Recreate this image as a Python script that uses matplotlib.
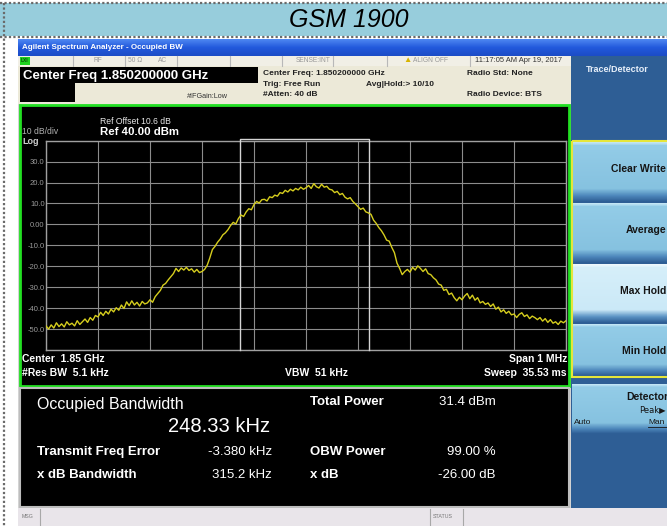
import numpy as np
import matplotlib.pyplot as plt
from matplotlib.patches import Rectangle
from matplotlib.colors import LinearSegmentedColormap

W, H = 667, 526

# Trace data: GSM 1900 carrier, 1 MHz span, one point every 5 kHz
span_khz = (-500, 500)
trace_dbm = [
    -48.5, -50.0, -48.0, -49.5, -47.0, -48.8, -47.5, -49.0, -46.5, -48.0,
    -47.2, -48.5, -46.0, -47.8, -46.5, -45.2, -46.8, -44.5, -45.8, -43.5,
    -44.2, -42.0, -43.5, -41.5, -42.8, -40.5, -41.8, -39.8, -41.0, -38.5,
    -40.2, -37.0, -38.8, -36.5, -38.5, -37.2, -39.0, -36.8, -38.0, -37.5,
    -36.0, -37.2, -34.5, -33.0, -31.5, -29.0, -28.2, -26.5, -25.0, -23.5,
    -21.0, -22.5, -20.8, -21.8, -20.5, -22.0, -21.2, -22.8, -21.5, -23.0,
    -22.5, -21.5, -19.5, -16.0, -12.0, -10.5, -8.5, -7.0, -5.0, -4.0,
    -2.5, -0.5, 1.0, 0.2, 2.8, 4.5, 3.8, 6.0, 7.5, 7.0,
    9.5, 11.0, 10.2, 11.8, 12.0, 11.2, 13.2, 12.8, 14.0, 13.5,
    15.2, 14.8, 16.3, 15.5, 16.8, 16.0, 17.2, 16.5, 17.8, 16.8,
    17.5, 18.6, 17.2, 19.5, 18.0, 17.4, 19.2, 17.8, 18.2, 16.8,
    16.5, 15.2, 15.8, 14.2, 14.8, 13.0, 12.2, 12.8, 11.0, 9.8,
    8.5, 7.2, 7.8, 6.0, 5.5, 4.8, 2.0, 0.5, -1.5, -3.0,
    -5.0, -7.5, -8.0, -11.0, -13.5, -18.5, -21.0, -24.0, -22.5, -21.5,
    -22.8, -20.5, -21.8, -19.8, -21.0, -22.5, -21.2, -23.5, -24.0, -25.5,
    -26.5, -28.5, -29.0, -31.5, -31.0, -33.5, -32.8, -35.0, -36.5, -34.8,
    -36.0, -34.2, -33.0, -35.5, -33.8, -36.2, -35.0, -37.5, -36.8, -38.2,
    -37.5, -39.2, -38.0, -40.5, -39.5, -41.8, -40.8, -42.5, -41.5, -43.2,
    -42.8, -44.5, -43.0, -42.2, -44.0, -43.2, -45.0, -43.8, -44.5, -45.5,
    -44.5, -46.2, -45.0, -46.8, -45.5, -47.2, -46.5, -47.8, -46.2, -47.0,
    -46.0,
]
ref_level = 40.0
db_per_div = 10
y_ticks = [-60, -50, -40, -30, -20, -10, 0, 10, 20, 30, 40]
y_labels = ['', '-50.0', '-40.0', '-30.0', '-20.0', '-10.0', '0.00', '10.0', '20.0', '30.0', '']
x_ticks = [-500, -400, -300, -200, -100, 0, 100, 200, 300, 400, 500]

# Measurement results
obw_khz = 248.33
freq_err_khz = -3.380
result_rows = [("Transmit Freq Error", "-3.380 kHz", "OBW Power", "99.00 %"),
               ("x dB Bandwidth", "315.2 kHz", "x dB", "-26.00 dB")]
softkeys = ["Clear Write", "Average", "Max Hold", "Min Hold"]

plt.rcParams['font.family'] = ['Liberation Sans', 'DejaVu Sans']

fig = plt.figure(figsize=(W / 100, H / 100), dpi=100, facecolor='white')
bg = fig.add_axes([0, 0, 1, 1])
bg.set_autoscale_on(False)
bg.set_xlim(0, W)
bg.set_ylim(H, 0)
bg.axis('off')


# pixel-space helpers for the instrument screen chrome
def box(x, y, w, h, fc, ec='none', lw=0, z=1):
    bg.add_patch(Rectangle((x, y), w, h, facecolor=fc, edgecolor=ec, linewidth=lw, zorder=z))


def grad(x, y, w, h, colors, z=1):
    cmap = LinearSegmentedColormap.from_list('g', colors)
    bg.imshow(np.linspace(0, 1, 60).reshape(-1, 1), cmap=cmap, extent=(x, x + w, y + h, y),
              aspect='auto', interpolation='bilinear', zorder=z)


def txt(x, y, s, size=7, color='white', weight='normal', ha='left', **kw):
    bg.text(x, y, s, fontsize=size, color=color, fontweight=weight, ha=ha, va='center', zorder=6, **kw)


def vline(x, y0, y1, color='#A8A8A8', lw=0.8, z=2):
    bg.plot([x, x], [y0, y1], color=color, lw=lw, zorder=z)


# Title bar
box(0, 3, W, 33, '#97CDDC')
bg.plot([0, W], [3, 3], color='#6A6A6A', lw=1.6, ls=(0, (1, 1)), zorder=3)
bg.plot([0, W], [36.5, 36.5], color='#6A6A6A', lw=1.6, ls=(0, (1, 1)), zorder=3)
bg.plot([4, 4], [3, H], color='#6A6A6A', lw=1.6, ls=(0, (1, 1)), zorder=3)
txt(349, 20, "GSM 1900", size=18, color='black', ha='center', style='italic')

# Screen background
box(18, 39, W - 18, H - 39, '#D4D4D4')

# Window title
grad(18, 39, W - 18, 17, ['#4F88F2', '#2259DC', '#1C4CC6'])
txt(22, 47.5, "Agilent Spectrum Analyzer - Occupied BW", size=5.8, weight='bold')

# Status row
box(18, 56, 553, 10, '#F1EFE6')
for xd in [73, 125, 177, 230, 282, 333, 387, 470]:
    vline(xd, 56, 66, color='#B8B8B8')
box(20, 57, 10, 8, '#1ED21E')
txt(21, 61, "LXI", size=3.5, color='#0A4A0A', weight='bold')
txt(98, 61, "RF", size=4.8, color='#999999', ha='center')
txt(135, 61, "50 Ω", size=4.8, color='#999999', ha='center')
txt(163, 61, "AC", size=4.8, color='#999999', ha='center')
txt(313, 61, "SENSE:INT", size=4.8, color='#999999', ha='center')
txt(407, 60.5, "▲", size=6, color='#D8B400', ha='center')
txt(413, 61, "ALIGN OFF", size=4.8, color='#999999')
txt(519, 61, "11:17:05 AM Apr 19, 2017", size=5.4, color='#333333', ha='center')

# Info area
box(18, 66, 553, 38, '#ECE9D8')
box(20, 67, 238, 16, 'black', z=2)
box(20, 83, 55, 19, 'black', z=2)
txt(23, 75.5, "Center Freq 1.850200000 GHz", size=9.5, weight='bold')
txt(187, 97, "#IFGain:Low", size=5.2, color='#333333')
txt(263, 73.5, "Center Freq: 1.850200000 GHz", size=6, color='#222222', weight='bold')
txt(263, 84, "Trig: Free Run", size=6, color='#222222', weight='bold')
txt(366, 84, "Avg|Hold:> 10/10", size=6, color='#222222', weight='bold')
txt(263, 95, "#Atten: 40 dB", size=6, color='#222222', weight='bold')
txt(467, 73.5, "Radio Std: None", size=6, color='#222222', weight='bold')
txt(467, 95, "Radio Device: BTS", size=6, color='#222222', weight='bold')

# Trace window frame
box(20, 104.5, 549, 281, 'black', ec='#22E022', lw=2)
txt(100, 121, "Ref Offset 10.6 dB", size=6.2, color='#E8E8E8')
txt(100, 132, "Ref 40.00 dBm", size=8.2, weight='bold')
txt(22, 131, "10 dB/div", size=6.2, color='#B0B0B0')
txt(22, 142, "Log", size=6.5, color='#D0D0D0', weight='bold')
txt(22, 359, "Center  1.85 GHz", size=7.5, weight='bold')
txt(22, 373, "#Res BW  5.1 kHz", size=7.5, weight='bold')
txt(285, 373, "VBW  51 kHz", size=7.5, weight='bold')
txt(567, 359, "Span 1 MHz", size=7.5, weight='bold', ha='right')
txt(567, 373, "Sweep  35.53 ms", size=7.5, weight='bold', ha='right')

# Results panel
box(20, 388, 549, 119, 'black', ec='#BDBDBD', lw=1.5)
txt(37, 404, "Occupied Bandwidth", size=11.5)
txt(168, 426, f"{obw_khz:.2f} kHz", size=14.5)
txt(310, 402, "Total Power", size=9.5, weight='bold')
txt(496, 402, "31.4 dBm", size=9.5, ha='right')
for i, (l1, v1, l2, v2) in enumerate(result_rows):
    yy = 452 + i * 22.5
    txt(37, yy, l1, size=9.5, weight='bold')
    txt(272, yy, v1, size=9.5, ha='right')
    txt(310, yy, l2, size=9.5, weight='bold')
    txt(496, yy, v2, size=9.5, ha='right')

# Softkey panel
box(571, 56, 96, 452, '#2E5E95')
txt(586, 69, "Trace/Detector", size=6.5, weight='bold', color='#E8F0FA')
normal_key = [(0, '#C4E6F5'), (0.05, '#93CCE7'), (0.78, '#86C2E0'), (0.9, '#4E88BC'), (1, '#2E5E95')]
active_key = [(0, '#EEF8FD'), (0.05, '#D6EFFA'), (0.78, '#CBE9F7'), (0.9, '#5B93C4'), (1, '#2E5E95')]
key_top = [142, 203, 264, 324]
key_h = [60, 60, 59, 52]
for i, name in enumerate(softkeys):
    grad(572, key_top[i], 95, key_h[i], active_key if name == "Max Hold" else normal_key)
    txt(666, key_top[i] + 27, name, size=7.5, weight='bold', color='#151515', ha='right')
bg.add_patch(Rectangle((571.5, 140.5), 97, 236, facecolor='none', edgecolor='#E6E63A', lw=1.5, zorder=3))
grad(572, 384, 95, 50, normal_key)
txt(668, 397, "Detector", size=7.5, weight='bold', color='#151515', ha='right')
txt(666, 410, "Peak▶", size=6, color='#151515', ha='right', family=['DejaVu Sans'])
txt(574, 423, "Auto", size=6, color='#151515')
txt(648, 423, "Man", size=6, color='#151515')
bg.plot([648, 667], [427, 427], color='#151515', lw=0.6, zorder=6)

# Message bar
box(18, 508, W - 18, 18, '#E9E5EA')
vline(40, 509, 526)
vline(430, 509, 526)
vline(463, 509, 526)
txt(22, 517, "MSG", size=3.8, color='#777777')
txt(433, 517, "STATUS", size=3.8, color='#777777')

# Spectrum graticule
ax = fig.add_axes([46 / W, 1 - 350 / H, 520 / W, 209.3 / H])
freqs = np.linspace(span_khz[0], span_khz[1], len(trace_dbm))
ax.set_facecolor('black')
ax.plot(freqs, trace_dbm, color='#D6CE1E', lw=1, zorder=4)
ax.set_xlim(*span_khz)
ax.set_ylim(ref_level - 10 * db_per_div, ref_level)
ax.set_xticks(x_ticks)
ax.set_yticks(y_ticks)
ax.set_yticklabels(y_labels)
ax.grid(True, color='#8C8C8C', lw=0.8)
ax.tick_params(length=0, labelbottom=False, labelsize=5.5, labelcolor='#9A9A9A', pad=1)
for s in ax.spines.values():
    s.set_color('#A0A0A0')
    s.set_linewidth(1)

# OBW bracket
lo = freq_err_khz - obw_khz / 2
hi = freq_err_khz + obw_khz / 2
ax.plot([lo, lo, hi, hi], [-60, 40.8, 40.8, -60], color='#D4D4D4', lw=1, clip_on=False, zorder=3)

fig.savefig('out.png', dpi=100, facecolor='white')
